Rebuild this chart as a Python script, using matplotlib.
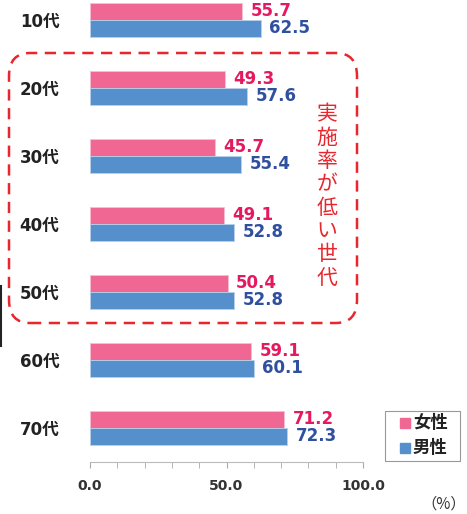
import numpy as np
import matplotlib
matplotlib.use('Agg')
from matplotlib import pyplot as plt
from matplotlib.patches import FancyBboxPatch, Rectangle
from matplotlib.lines import Line2D

plt.rcParams['font.family'] = ['DejaVu Sans', 'Noto Sans CJK JP']

# data
ages = ['10代', '20代', '30代', '40代', '50代', '60代', '70代']
female = [55.7, 49.3, 45.7, 49.1, 50.4, 59.1, 71.2]
male = [62.5, 57.6, 55.4, 52.8, 52.8, 60.1, 72.3]
xticks = [0, 50, 100]

pink = '#F06793'
blue = '#5590CC'
pink_txt = '#E5195F'
blue_txt = '#2F4F9F'
red = '#E8262D'

fig = plt.figure(figsize=(4.67, 5.14), dpi=100)
ax = fig.add_axes([90 / 467, 52 / 514, 273 / 467, 462 / 514])

y = np.arange(len(ages))
h = 0.25
ax.barh(y - h / 2, female, height=h, color=pink, edgecolor='#f8c0d0', linewidth=0.6)
ax.barh(y + h / 2, male, height=h, color=blue, edgecolor='#b8d0ec', linewidth=0.6)

for i in range(len(ages)):
    ax.text(female[i] + 3, y[i] - h / 2, f'{female[i]:.1f}', color=pink_txt,
            fontsize=12, fontweight='bold', va='center', ha='left')
    ax.text(male[i] + 3, y[i] + h / 2, f'{male[i]:.1f}', color=blue_txt,
            fontsize=12, fontweight='bold', va='center', ha='left')

ax.set_xlim(0, 100)
ax.set_ylim(6.5, 6.5 - 462 / 68)
ax.set_yticks(y)
ax.set_yticklabels(ages, fontsize=12, fontweight='bold', color='#222222')
ax.tick_params(axis='y', length=0, pad=22)
ax.set_xticks(xticks)
ax.set_xticklabels([f'{v:.1f}' for v in xticks], fontsize=10, fontweight='bold',
                   color='#333333')
ax.set_xticks(np.arange(0, 101, 10), minor=True)
ax.tick_params(axis='x', which='both', length=4, color='#aaaaaa', pad=8)
for s in ['top', 'right', 'left']:
    ax.spines[s].set_visible(False)
ax.spines['bottom'].set_color('#bbbbbb')

# dashed rounded box
box = FancyBboxPatch((9 / 467, (514 - 323) / 514), 348 / 467, 270 / 514,
                     boxstyle='round,pad=0,rounding_size=0.045', transform=fig.transFigure,
                     fill=False, edgecolor=red, linewidth=1.8, linestyle=(0, (4.5, 3)))
fig.patches.append(box)
fig.text(327 / 467, (514 - 196) / 514, '\n'.join('実施率が低い世代'), color=red, fontsize=15,
         ha='center', va='center', linespacing=1.08, family='Noto Sans CJK JP')

# legend
fig.patches.append(Rectangle((385 / 467, (514 - 461) / 514), 75 / 467, 50 / 514,
                             transform=fig.transFigure, fill=False, edgecolor='#999999', linewidth=0.8))
fig.patches.append(Rectangle((400 / 467, (514 - 428) / 514), 10 / 467, 10 / 514,
                             transform=fig.transFigure, color=pink))
fig.patches.append(Rectangle((400 / 467, (514 - 453) / 514), 10 / 467, 10 / 514,
                             transform=fig.transFigure, color=blue))
fig.text(413 / 467, (514 - 423) / 514, '女性', fontsize=12.5, fontweight='bold', color='#222222',
         va='center', family='Noto Sans CJK JP')
fig.text(413 / 467, (514 - 448) / 514, '男性', fontsize=12.5, fontweight='bold', color='#222222',
         va='center', family='Noto Sans CJK JP')

fig.text(466 / 467, (514 - 504) / 514, '（%）', fontsize=11, color='#333333', va='center', ha='right',
         family='Noto Sans CJK JP')
fig.lines.append(Line2D([1 / 467, 1 / 467], [(514 - 286) / 514, (514 - 346) / 514],
                        transform=fig.transFigure, color='#222222', linewidth=1.5))

fig.savefig('out.png', dpi=100)
